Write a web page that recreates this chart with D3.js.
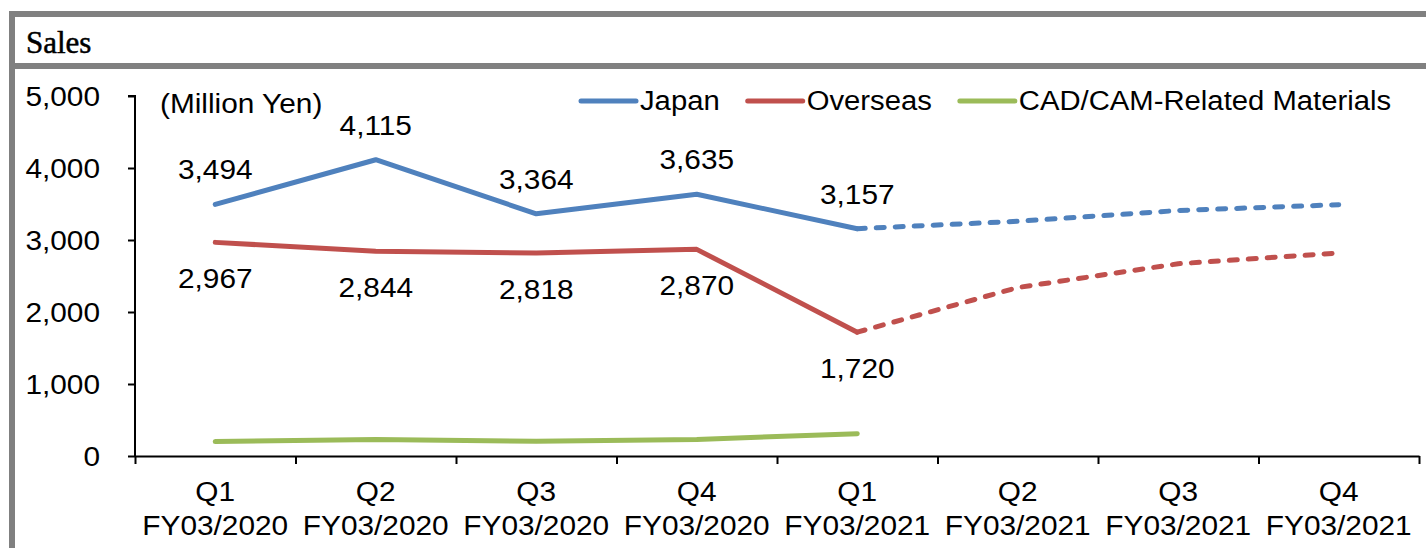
<!DOCTYPE html>
<html>
<head>
<meta charset="utf-8">
<script src="https://cdn.jsdelivr.net/npm/d3@7/dist/d3.min.js"></script>
<style>
  html, body { margin: 0; padding: 0; background: #fff; }
  svg { display: block; }
  text { font-family: "Liberation Sans", Arial, sans-serif; fill: #000; }
</style>
</head>
<body>
<svg id="chart" width="1426" height="548"></svg>
<script>
// ---- Data ----
const quarters = ["Q1", "Q2", "Q3", "Q4", "Q1", "Q2", "Q3", "Q4"];
const fiscalYears = ["FY03/2020", "FY03/2020", "FY03/2020", "FY03/2020", "FY03/2021", "FY03/2021", "FY03/2021", "FY03/2021"];
const japanActual = [3494, 4115, 3364, 3635, 3157];
const overseasActual = [2967, 2844, 2818, 2870, 1720];
const cadcamActual = [200, 230, 205, 230, 310];
const japanForecast = [3157, 3260, 3410, 3490];      // Q1..Q4 FY03/2021 (dashed)
const overseasForecast = [1720, 2340, 2670, 2820];   // Q1..Q4 FY03/2021 (dashed)
const yTicks = [0, 1000, 2000, 3000, 4000, 5000];
const seriesNames = ["Japan", "Overseas", "CAD/CAM-Related Materials"];
const seriesColors = ["#4F81BD", "#C0504D", "#9BBB59"];
const titleText = "Sales";
const unitText = "(Million Yen)";

// ---- Layout ----
const svg = d3.select("#chart");
const W = 1426, H = 548;
const x0 = 135, x1 = 1419, yTop = 96, yBot = 456;
const SX = 1.065;   // horizontal stretch of the reference's text
const FS = "28px";

svg.append("rect").attr("width", W).attr("height", H).attr("fill", "#fff");

function txt(g, x, yy, s, anchor, sx) {
  return g.append("text")
    .attr("transform", `translate(${x},${yy}) scale(${sx || SX},1)`)
    .attr("text-anchor", anchor || "start")
    .style("font-size", FS)
    .text(s);
}

// frame
const gray = "#808080";
svg.append("rect").attr("x", 9).attr("y", 11).attr("width", 6).attr("height", H - 11).attr("fill", gray);
svg.append("rect").attr("x", 9).attr("y", 11).attr("width", W - 9).attr("height", 6).attr("fill", gray);
svg.append("rect").attr("x", 9).attr("y", 63).attr("width", W - 9).attr("height", 6).attr("fill", gray);

svg.append("text").attr("x", 26).attr("y", 53)
  .style("font-family", "'Liberation Serif', 'DejaVu Serif', serif")
  .style("font-size", "31px")
  .attr("stroke", "#000").attr("stroke-width", 0.5)
  .text(titleText);

// scales
const idx = d3.range(quarters.length);
const xBand = d3.scaleBand().domain(idx).range([x0, x1]).padding(0);
const xc = i => xBand(i) + xBand.bandwidth() / 2;
const y = d3.scaleLinear().domain([0, 5000]).range([yBot, yTop]);

// y axis
const yAxis = svg.append("g").attr("transform", `translate(${x0},0)`)
  .call(d3.axisLeft(y).tickValues(yTicks).tickSize(7).tickPadding(28).tickFormat(d3.format(",")));
yAxis.select(".domain").attr("stroke", "#000").attr("stroke-width", 2).attr("d", `M-7,${yTop}H0V${yBot}`);
yAxis.selectAll(".tick line").attr("stroke", "#000").attr("stroke-width", 2);
yAxis.selectAll(".tick text")
  .style("font-size", FS).style("font-family", "'Liberation Sans', Arial, sans-serif")
  .attr("dy", "0.35em")
  .attr("x", -35 / SX)
  .attr("transform", `scale(${SX},1)`);

// x axis with boundary ticks
const xBound = d3.scaleLinear().domain([0, quarters.length]).range([x0, x1]);
const xAxis = svg.append("g").attr("transform", `translate(0,${yBot})`)
  .call(d3.axisBottom(xBound).tickValues(d3.range(quarters.length + 1)).tickSize(8).tickSizeOuter(0).tickFormat(""));
xAxis.select(".domain").attr("stroke", "#000").attr("stroke-width", 2);
xAxis.selectAll(".tick line").attr("stroke", "#000").attr("stroke-width", 2);

// x labels
const xl = svg.append("g");
idx.forEach(i => {
  txt(xl, xc(i), 501, quarters[i], "middle");
  txt(xl, xc(i), 535, fiscalYears[i], "middle");
});

// lines
const line = d3.line().x(d => xc(d.i)).y(d => y(d.v));
const toPts = (arr, off) => arr.map((v, k) => ({ i: k + off, v }));

function drawLine(data, color, dashed) {
  const p = svg.append("path").datum(data).attr("d", line)
    .attr("fill", "none").attr("stroke", color).attr("stroke-width", 5)
    .attr("stroke-linejoin", "round").attr("stroke-linecap", "round");
  if (dashed) p.attr("stroke-dasharray", "8,11");
  return p;
}
drawLine(toPts(cadcamActual, 0), seriesColors[2], false);
drawLine(toPts(overseasForecast, 4), seriesColors[1], true);
drawLine(toPts(japanForecast, 4), seriesColors[0], true);
drawLine(toPts(overseasActual, 0), seriesColors[1], false);
drawLine(toPts(japanActual, 0), seriesColors[0], false);

// data labels
const fmt = d3.format(",");
const lbl = svg.append("g");
japanActual.forEach((v, i) => txt(lbl, xc(i), y(v) - 25, fmt(v), "middle"));
overseasActual.forEach((v, i) => txt(lbl, xc(i), y(v) + 46, fmt(v), "middle"));

// unit label
txt(svg, 160, 113, unitText, "start");

// legend
let lx = 581;
const ly = 101;
const lg = svg.append("g");
const LSX = 1.045;
seriesNames.forEach((name, k) => {
  lg.append("line").attr("x1", lx).attr("x2", lx + 55).attr("y1", ly).attr("y2", ly)
    .attr("stroke", seriesColors[k]).attr("stroke-width", 5).attr("stroke-linecap", "round");
  const t = txt(lg, lx + 59, ly + 9, name, "start", LSX);
  lx = lx + 59 + t.node().getComputedTextLength() * LSX + 28;
});
</script>
</body>
</html>
